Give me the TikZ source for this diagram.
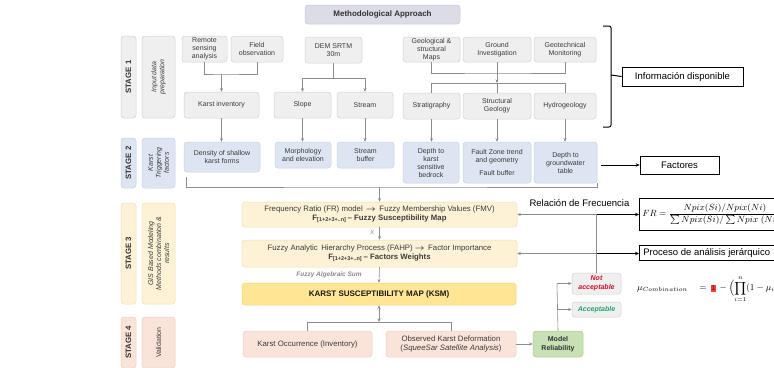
\documentclass[tikz,border=0pt]{standalone}
\usepackage{amsmath}
\usepackage{fontspec}
\setmainfont{Liberation Sans}
\usetikzlibrary{arrows.meta,calc}
\definecolor{txt}{HTML}{3C3C3C}
\definecolor{lin}{HTML}{8C8C8C}
\definecolor{gfl}{HTML}{EFEFEF}
\definecolor{gbd}{HTML}{D2D2D2}
\definecolor{ttfl}{HTML}{DCDCE6}
\definecolor{ttbd}{HTML}{C8C8D4}
\definecolor{bfl}{HTML}{DCE5F1}
\definecolor{bbd}{HTML}{C6D3E6}
\definecolor{yfl}{HTML}{FDF2D6}
\definecolor{ybd}{HTML}{F1DFB2}
\definecolor{kfl}{HTML}{FFE594}
\definecolor{kbd}{HTML}{F3D57A}
\definecolor{pfl}{HTML}{FAE3D8}
\definecolor{pbd}{HTML}{F0CDBE}
\definecolor{grfl}{HTML}{C7E1B5}
\definecolor{grbd}{HTML}{AACF90}
\definecolor{nared}{HTML}{C8102E}
\definecolor{acgr}{HTML}{23A06E}
\definecolor{lbl}{HTML}{8A8A8A}
\definecolor{hl}{HTML}{F04040}
\newcommand{\mybox}[7]{\node[#1, minimum width={(#5-#3)*1pt}, minimum height={(#6-#4)*1pt}] (#2) at ({(#3+#5)/2},{(#4+#6)/2}) {#7};}
\newcommand{\myvbox}[7]{\node[#1, minimum width={(#6-#4)*1pt}, minimum height={(#5-#3)*1pt}] (#2) at ({(#3+#5)/2},{(#4+#6)/2}) {#7};}
\begin{document}
\begin{tikzpicture}[x=1pt,y=-1pt,
 base/.style={rounded corners=3pt, line width=0.5pt, align=center, inner sep=1pt, text=txt, font=\fontsize{7}{8}\selectfont},
 g1/.style={base, draw=gbd, fill=gfl},
 tt/.style={base, draw=ttbd, fill=ttfl, text=black!80, font=\bfseries\fontsize{8}{9}\selectfont},
 b2/.style={base, draw=bbd, fill=bfl},
 y3/.style={base, draw=ybd, fill=yfl, font=\fontsize{7.8}{9}\selectfont},
 ks/.style={base, draw=kbd, fill=kfl, text=black!90, font=\bfseries\fontsize{8}{9}\selectfont},
 p4/.style={base, draw=pbd, fill=pfl, font=\fontsize{7.8}{9}\selectfont},
 gr/.style={base, draw=grbd, fill=grfl, text=black!80, font=\bfseries\fontsize{7}{8.5}\selectfont},
 nab/.style={base, draw=gbd, fill=gfl, text=nared, font=\bfseries\itshape\fontsize{7}{8.5}\selectfont},
 acb/.style={base, draw=gbd, fill=gfl, text=acgr, font=\bfseries\itshape\fontsize{7}{8.5}\selectfont},
 stg/.style={base, rotate=90, text=black!80, font=\bfseries\fontsize{7.8}{8}\selectfont},
 side/.style={base, rotate=90, font=\itshape\fontsize{7}{8}\selectfont},
 sideup/.style={base, rotate=90, font=\fontsize{7}{8}\selectfont},
 ln/.style={draw=lin, line width=0.6pt},
 ar/.style={ln, -{Stealth[length=3.5pt,width=3pt]}},
 dar/.style={ln, {Stealth[length=3.5pt,width=3pt]}-{Stealth[length=3.5pt,width=3pt]}},
 blk/.style={draw=black, line width=0.9pt, -{Stealth[length=4pt,width=3.5pt]}},
 rbox/.style={draw=black, line width=0.7pt, inner sep=2pt, fill=white, text=black, font=\fontsize{9.5}{11}\selectfont, align=left},
]
\useasboundingbox (0,0) rectangle (774,367);
\clip (0,0) rectangle (774,367);
\fill[white] (0,0) rectangle (774,367);

% title
\mybox{tt}{mt}{305}{5}{460}{24}{Methodological Approach}

% stage bars and side labels
\myvbox{stg, draw=gbd, fill=gfl}{s1}{121}{36}{136}{118}{STAGE 1}
\myvbox{side, draw=gbd, fill=gfl}{l1}{142}{36}{175}{118}{Input data\\preparation}
\myvbox{stg, draw=bbd, fill=bfl}{s2}{121}{138}{136}{188}{STAGE 2}
\myvbox{side, draw=bbd, fill=bfl}{l2}{142}{138}{175}{188}{Karst\\Triggering\\factors}
\myvbox{stg, draw=ybd, fill=yfl}{s3}{121}{203}{136}{304}{STAGE 3}
\myvbox{side, draw=ybd, fill=yfl}{l3}{142}{203}{175}{304}{GIS Based Modeling\\Methods combination \&\\results}
\myvbox{stg, draw=pbd, fill=pfl}{s4}{121}{317}{136}{368}{STAGE 4}
\myvbox{sideup, draw=pbd, fill=pfl}{l4}{142}{317}{175}{368}{Validation}

% stage 1
\mybox{g1}{rs}{182}{36}{227}{62}{Remote\\sensing\\analysis}
\mybox{g1}{fo}{231}{36}{283}{62}{Field\\observation}
\mybox{g1}{dem}{305}{37}{362}{63}{DEM SRTM\\30m}
\mybox{g1}{gm}{403}{37}{460}{62}{Geological \&\\structural\\Maps}
\mybox{g1}{gi}{463}{37}{531}{62}{Ground\\Investigation}
\mybox{g1}{gt}{534}{37}{596}{62}{Geotechnical\\Monitoring}
\mybox{g1}{ki}{184}{92}{259}{118}{Karst inventory}
\mybox{g1}{sl}{274}{92}{331}{118}{Slope}
\mybox{g1}{st}{337}{92}{393}{118}{Stream}
\mybox{g1}{sg}{403}{93}{460}{119}{Stratigraphy}
\mybox{g1}{sgeo}{463}{93}{531}{119}{Structural\\Geology}
\mybox{g1}{hy}{534}{93}{596}{119}{Hydrogeology}

% stage 2
\mybox{b2}{de}{184}{142}{260}{172}{Density of shallow\\karst forms}
\mybox{b2}{mo}{275}{142}{331}{168}{Morphology\\and elevation}
\mybox{b2}{sb}{337}{142}{394}{168}{Stream\\buffer}
\mybox{b2}{dk}{403}{142}{459}{183}{Depth to\\karst\\sensitive\\bedrock}
\mybox{b2}{fz}{463}{142}{531}{183}{Fault Zone trend\\and geometry\\[5pt]Fault buffer}
\mybox{b2}{dg}{534}{142}{597}{183}{Depth to\\groundwater\\table}

% stage 3
\mybox{y3}{fr}{242}{202}{517}{227}{Frequency Ratio (FR) model \,$\boldsymbol{\rightarrow}$\, Fuzzy Membership Values (FMV)\\\textbf{F\textsubscript{[1+2+3+..n]}\,– Fuzzy Susceptibility Map}}
\mybox{y3}{fh}{242}{240}{517}{267}{Fuzzy Analytic\, Hierarchy Process (FAHP) $\boldsymbol{\rightarrow}$\, Factor Importance\\\textbf{F\textsubscript{[1+2+3+..n]}\,– Factors Weights}}
\mybox{ks}{ksm}{242}{283}{516}{305}{KARST SUSCEPTIBILITY MAP (KSM)}
\mybox{nab}{na}{572}{273}{621}{294}{Not\\acceptable}
\mybox{acb}{ac}{572}{302}{621}{317}{Acceptable}
\node[text=lbl, font=\bfseries\itshape\fontsize{6.5}{7}\selectfont] (fas) at (329,275) {Fuzzy Algebraic Sum};
\node[text=lbl, font=\itshape\fontsize{6}{7}\selectfont] (xl) at (372,232) {X};

% stage 4
\mybox{p4}{ko}{243}{331}{372}{357}{Karst Occurrence (Inventory)}
\mybox{p4}{ob}{386}{331}{516}{357}{Observed Karst Deformation\\(\textit{SqueeSar Satellite Analysis})}
\mybox{gr}{mr}{533}{331}{583}{357}{Model\\Reliability}

% right side annotations
\mybox{rbox}{io}{622}{67}{743}{86}{Información disponible}
\mybox{rbox}{fa}{640}{156}{719}{174}{Factores}
\node[rbox, anchor=west, minimum height=32pt, inner xsep=3pt, font=\fontsize{9}{11}\selectfont] (frf) at (639,214.5)
 {$FR=\dfrac{Npix(Si)/Npix(Ni)}{\sum Npix(Si)/\sum Npix\;(Ni)}$};
\node[rbox, anchor=west, minimum height=15pt, inner xsep=4pt] (pr) at (639,252.5) {Proceso de análisis jerárquico};
\node[font=\fontsize{9.5}{11}\selectfont, text=black] (rf) at (579.5,203) {Relación de Frecuencia};
\node[anchor=west, inner sep=0pt, font=\fontsize{9}{11}\selectfont] (mu) at (637,289)
 {$\displaystyle \mu_{Combination}\quad =\,{\setlength{\fboxsep}{0.8pt}\colorbox{hl}{\textcolor{red!50!black}{\scriptsize 1}}}\,-\Bigl(\prod_{i=1}^{n}(1-\mu_i)\Bigr)$};

% bracket
\draw[black, line width=1pt, rounded corners=2pt] (603,26) -- (611,26) -- (611,127) -- (603,127);
\coordinate (brt) at (611,75);
\draw[black, line width=1pt] (brt) -- (io.west);

% stage 1 connectors
\coordinate (j1) at (221.5,74);
\draw[ln] (rs.south) |- (j1) -| (fo.south);
\draw[ar] (j1) -- (ki.north);
\coordinate (j2) at (333.5,78);
\draw[ln] (dem.south) -- (j2);
\draw[ar] (j2) -| (sl.north);
\draw[ar] (j2) -| (st.north);
\coordinate (j3) at (497,73);
\draw[ln] (gm.south) |- (j3) -| (gt.south);
\coordinate (j4) at (497,83);
\draw[ar] (gi.south) -- (j4);
\draw[ln] (j4) -| (sg.north);
\draw[ln] (j4) -| (hy.north);
\draw[ln] (j4) -- (sgeo.north);

% stage 1 -> stage 2
\draw[ar] (ki.south) -- (ki.south |- de.north);
\draw[ar] (sl.south) -- (sl.south |- mo.north);
\draw[ar] (st.south) -- (st.south |- sb.north);
\draw[ar] (sg.south) -- (sg.south |- dk.north);
\draw[ar] (sgeo.south) -- (sgeo.south |- fz.north);
\draw[ar] (hy.south) -- (hy.south |- dg.north);

% stage 2 collector
\coordinate (b1) at (186,177);
\coordinate (b2) at (597,183);
\coordinate (b3) at (379.5,187);
\draw[ln] (b1) |- (b3) -| (b2);
\draw[ar] (b3) -- (fr.north);
\coordinate (fs) at (601,165);
\draw[blk] (fs) -- (fa.west);

% stage 3 connectors
\draw[ar] (fr.south) -- (fh.north);
\draw[ar] (fh.south) -- (ksm.north);
\coordinate (j5) at (379,322);
\draw[dar] (ksm.south) -- (j5);
\draw[ln] (ko.north) |- (j5);
\draw[ln] (j5) -| (ob.north);
\draw[ar] (ob.east) -- (mr.west);
\coordinate (j6) at (557,283.5);
\coordinate (j7) at (557,309.5);
\draw[ln] (mr.north) -- (j6);
\draw[ar] (j6) -- (na.west);
\draw[ar] (j7) -- (ac.west);
\coordinate (c1) at (596.5,214.5);
\coordinate (c2) at (596.5,253.5);
\draw[ln] (na.north) -- (c1);
\draw[ar] (c1) -- (fr.east);
\draw[ar] (c2) -- (fh.east);
\draw[blk] (c1) -- (c1 -| frf.west);
\draw[blk] (c2) -- (c2 -| pr.west);
\end{tikzpicture}
\end{document}
